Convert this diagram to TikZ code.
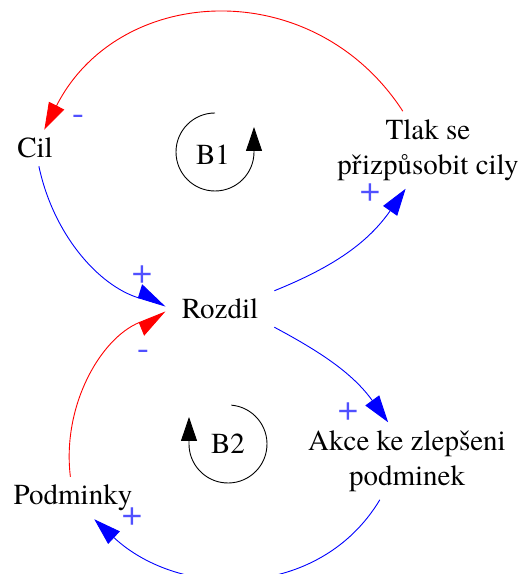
\documentclass[tikz,border=0pt]{standalone}
\usepackage{fontspec}
\setmainfont{texgyretermes}[Extension=.otf, UprightFont=*-regular, BoldFont=*-bold]
\usetikzlibrary{arrows.meta}

\definecolor{signcol}{RGB}{80,80,255}

\tikzset{
	var/.style={inner sep=8pt, align=center, font=\fontsize{29}{35}\selectfont},
	sign/.style={inner sep=0pt, text=signcol, font=\fontsize{36}{36}\selectfont},
	link/.style={line width=0.9pt},
	poslink/.style={link, draw=blue, -{Triangle[length=27pt,width=17pt]}},
	neglink/.style={link, draw=red, -{Triangle[length=27pt,width=17pt]}},
	loopmark/.style={line width=0.9pt, -{Triangle[length=24pt,width=16pt]}}
}

\begin{document}
\begin{tikzpicture}[x=1pt,y=1pt]
	\useasboundingbox (0,0) rectangle (520,574);
	
	% variables
	\node[var] (cil) at (35,426) {Cil};
	\node[var] (tlak) at (428,424) {Tlak se\\přizpůsobit cily};
	\node[var,inner xsep=16pt] (rozdil) at (220,265) {Rozdil};
	\node[var] (akce) at (407,113) {Akce ke zlepšeni\\podminek};
	\node[var] (podminky) at (73,76) {Podminky};
	\node[var,inner sep=0pt] (b1) at (213,419) {B1};
	\node[var,inner sep=0pt] (b2) at (228,130) {B2};
	
	% links
	\draw[neglink] (tlak) to[out=123,in=63,looseness=1.17] (cil);
	\draw[link, draw=blue, -{Triangle[length=28pt,width=28pt,harpoon]}] (cil) to[out=-78,in=163,looseness=0.95] (rozdil.177);
	\draw[link, draw=red, -{Triangle[length=28pt,width=28pt,harpoon,swap]}] (podminky) to[out=97,in=202,looseness=0.95] (rozdil.183);
	\draw[poslink] (rozdil.north east) to[out=22,in=235] (tlak.240);
	\draw[poslink] (rozdil.south east) to[out=-28,in=126] (akce.116);
	\draw[poslink] (akce.235) to[out=239,in=-43,looseness=1.05] (podminky.-45);
	
	% polarities
	\node[sign] (s1) at (78,454) {-};
	\node[sign] (s2) at (142,299) {+};
	\node[sign] (s3) at (143,219) {-};
	\node[sign] (s4) at (370,381) {+};
	\node[sign] (s5) at (348,162) {+};
	\node[sign] (s6) at (132,57) {+};
	
	% loop markers
	\draw[loopmark] ([shift={(2,3)}]b1.center) ++(90:39) arc[start angle=90,end angle=360,radius=39] -- ++(0,25);
	\draw[loopmark] (b2.center) ++(85:39) arc[start angle=85,end angle=-180,radius=39] -- ++(0,27);
\end{tikzpicture}
\end{document}
